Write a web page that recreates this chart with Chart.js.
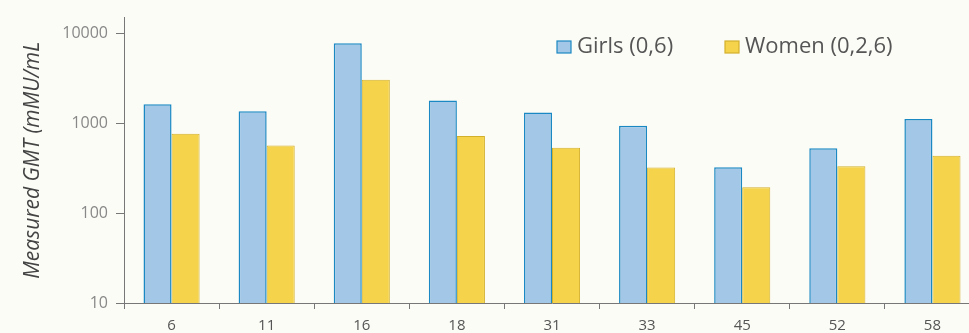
<!DOCTYPE html>
<html>
<head>
<meta charset="utf-8">
<script src="https://cdn.jsdelivr.net/npm/chart.js@4/dist/chart.umd.min.js"></script>
<style>
  html, body { margin: 0; padding: 0; background: #fcfcf7; overflow: hidden; }
  #wrap { width: 990px; height: 333px; position: relative; }
</style>
</head>
<body>
<div id="wrap"><canvas id="c"></canvas></div>
<script>
const categories = ['6', '11', '16', '18', '31', '33', '45', '52', '58'];
const girls = [1630, 1365, 7780, 1790, 1320, 940, 324, 527, 1115];
const women = [764, 565, 3060, 721, 533, 322, 194, 333, 436];
const yTicks = [10, 100, 1000, 10000];
const seriesNames = ['Girls (0,6)', 'Women (0,2,6)'];

const FONT = '"Open Sans", Lato, sans-serif';

// Legend drawn inside the plot, top right
const insideLegend = {
  id: 'insideLegend',
  afterDraw(chart) {
    const ctx = chart.ctx;
    const items = chart.data.datasets;
    const xs = [557, 725];
    ctx.save();
    ctx.font = '22px ' + FONT;
    ctx.textBaseline = 'middle';
    items.forEach((ds, i) => {
      const x = xs[i], y = 47;
      ctx.fillStyle = ds.backgroundColor;
      ctx.fillRect(x, y - 6, 14, 12);
      ctx.strokeStyle = ds.borderColor;
      ctx.lineWidth = 1.2;
      ctx.strokeRect(x, y - 6, 14, 12);
      ctx.fillStyle = '#555';
      ctx.fillText(ds.label, x + 20, y);
    });
    ctx.restore();
  }
};

new Chart(document.getElementById('c'), {
  type: 'bar',
  data: {
    labels: categories,
    datasets: [
      { label: seriesNames[0], data: girls, backgroundColor: '#a3c7e7', borderColor: '#1a88c2', borderWidth: 1.5, borderSkipped: 'bottom' },
      { label: seriesNames[1], data: women, backgroundColor: '#f5d44c', borderColor: '#d3b02c', borderWidth: 1, borderSkipped: 'bottom' }
    ]
  },
  options: {
    responsive: true,
    maintainAspectRatio: false,
    animation: false,
    layout: { padding: { top: 13, right: 10, left: 0, bottom: 0 } },
    plugins: { legend: { display: false }, tooltip: { enabled: false } },
    datasets: { bar: { categoryPercentage: 0.59, barPercentage: 1.0 } },
    scales: {
      x: {
        grid: { display: true, drawOnChartArea: false, offset: true, tickLength: 6, color: '#777' },
        border: { display: true, color: '#777', width: 1 },
        ticks: { color: '#555', font: { family: FONT, size: 15 }, padding: 8, maxRotation: 0 },
        afterFit(scale) { scale.height = 30; }
      },
      y: {
        type: 'logarithmic',
        min: 10,
        max: 15000,
        grid: { display: true, drawOnChartArea: false, tickLength: 8, color: '#777' },
        border: { display: true, color: '#777', width: 1 },
        afterBuildTicks(scale) { scale.ticks = yTicks.map(v => ({ value: v })); },
        ticks: {
          color: '#888',
          font: { family: FONT, size: 16 },
          padding: 8,
          callback: (v) => String(v)
        },
        title: {
          display: true,
          text: 'Measured GMT (mMU/mL',
          color: '#444',
          font: { family: FONT, size: 21, style: 'italic' },
          padding: { top: 20, bottom: 0 }
        },
        afterFit(scale) { scale.width = 124; }
      }
    }
  },
  plugins: [insideLegend]
});
</script>
</body>
</html>
